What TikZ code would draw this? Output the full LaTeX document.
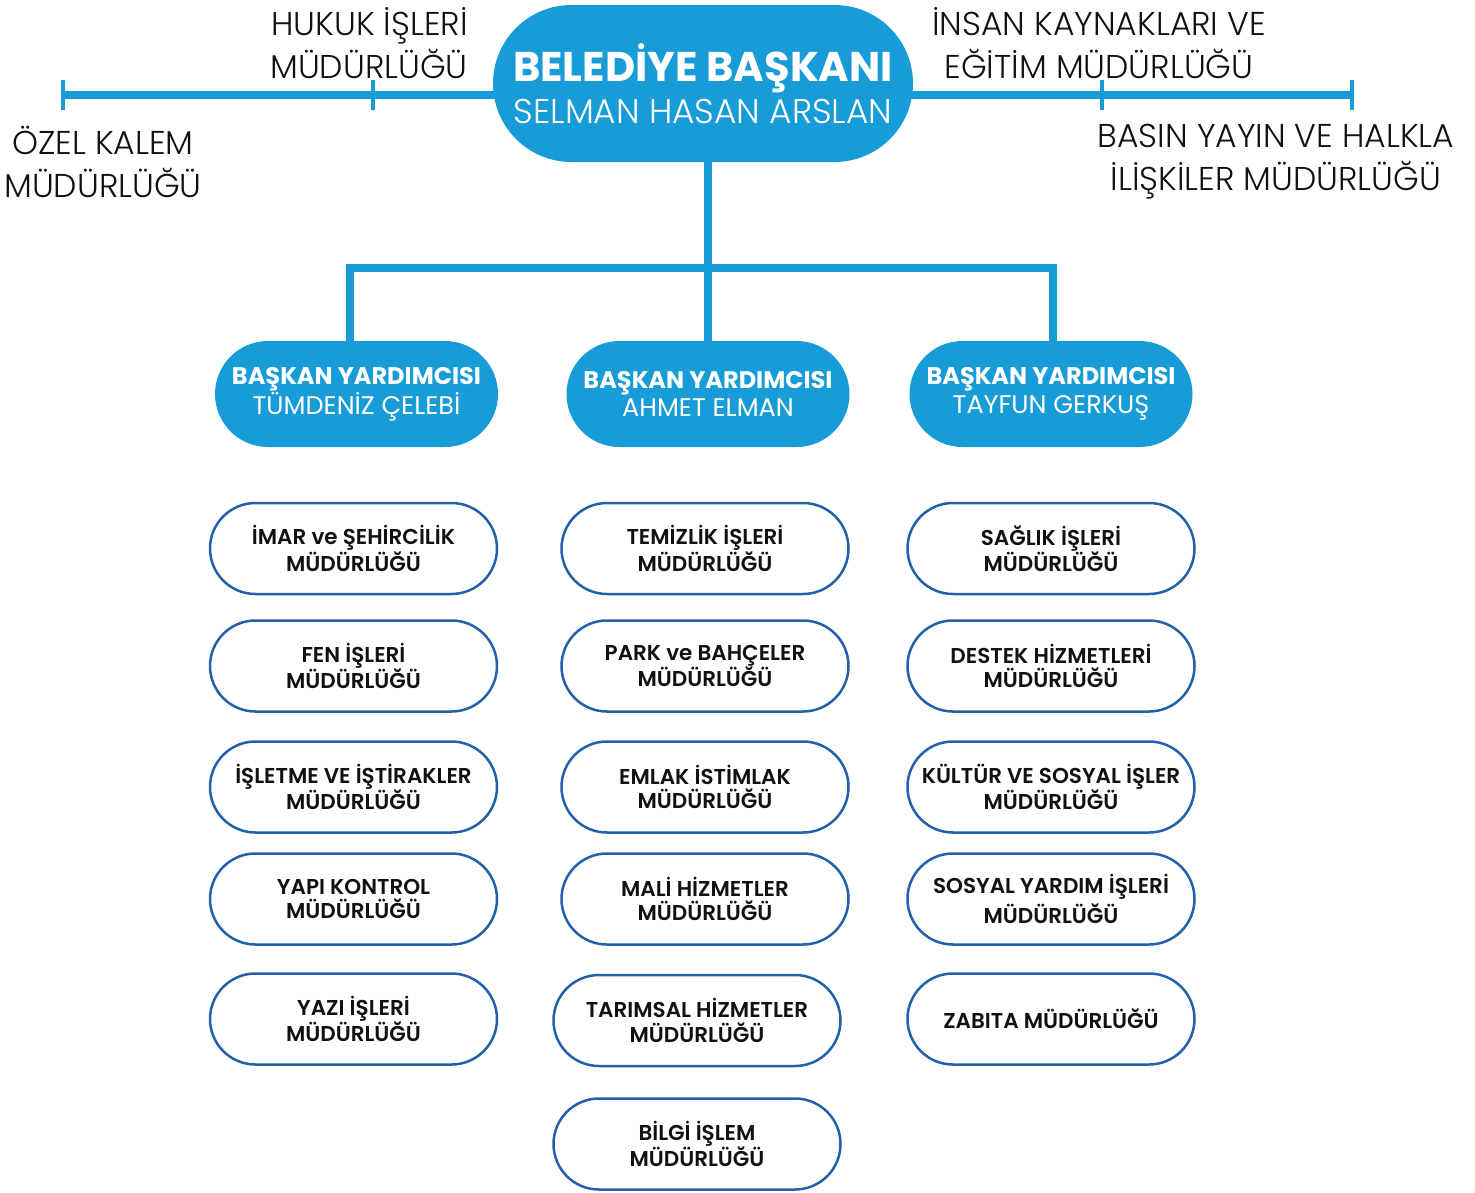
\documentclass[tikz,border=0pt]{standalone}
\usepackage{fontspec}
\setmainfont{Poppins}[BoldFont={Poppins SemiBold}]
\newfontfamily\heavyfont{Poppins}[UprightFont={* Bold}]
\newfontfamily\lightfont{Poppins}[UprightFont={* Light}]
\usetikzlibrary{shapes.misc}
\definecolor{mainblue}{HTML}{189CD8}
\definecolor{edgeblue}{HTML}{2161A9}
\definecolor{ink}{HTML}{111111}

\begin{document}
\begin{tikzpicture}[x=1pt,y=-1pt]
\tikzstyle{head}=[rounded rectangle,fill=mainblue,text=white,align=center,inner sep=0pt]
\tikzstyle{vice}=[head,minimum width=283pt,minimum height=106pt,font=\fontsize{25.5}{28.5}\selectfont]
\tikzstyle{dept}=[rounded rectangle,draw=edgeblue,line width=2.5pt,fill=white,minimum width=287pt,minimum height=91pt,inner sep=0pt,align=center,text=ink,font=\bfseries\fontsize{21.5}{24.5}\selectfont]
\tikzstyle{side}=[align=center,inner sep=0pt,text=ink,font=\lightfont\fontsize{33}{43}\selectfont]
\tikzstyle{bar}=[mainblue,line width=8pt]
\tikzstyle{tick}=[mainblue,line width=4pt]

\useasboundingbox (0,0) rectangle (1475,1192);

%staff line of the mayor.
\coordinate (ozel_tick) at (63,95);
\coordinate (hukuk_tick) at (373,95);
\coordinate (insan_tick) at (1102,95);
\coordinate (basin_tick) at (1352,95);
\draw[bar] (ozel_tick) -- (basin_tick);
\foreach \t in {ozel_tick,hukuk_tick,insan_tick,basin_tick}
  \draw[tick] ([yshift=-15pt]\t) -- ([yshift=15pt]\t);

\node[head,minimum width=420pt,minimum height=157pt,font=\lightfont\fontsize{34.3}{42}\selectfont] (mayor) at (703,83.5)
  {{\heavyfont\fontsize{41.5}{42}\selectfont BELEDİYE BAŞKANI}\\SELMAN HASAN ARSLAN};

\node[side,anchor=east,align=right] (hukuk_label) at (468,43.5) {HUKUK İŞLERİ\\MÜDÜRLÜĞÜ};
\node[side] (ozel_label) at (103,161.5) {ÖZEL KALEM\\MÜDÜRLÜĞÜ};
\node[side] (insan_label) at (1099,43.5) {İNSAN KAYNAKLARI VE\\EĞİTİM MÜDÜRLÜĞÜ};
\node[side] (basin_label) at (1276,161.5) {BASIN YAYIN VE HALKLA\\İLİŞKİLER MÜDÜRLÜĞÜ};

%deputy mayors.
\node[vice] (vp_left) at (356.5,394) {{\heavyfont\fontsize{24}{28.5}\selectfont BAŞKAN YARDIMCISI}\\TÜMDENİZ ÇELEBİ};
\node[vice] (vp_mid) at (708,394) {{\heavyfont\fontsize{24}{28.5}\selectfont BAŞKAN YARDIMCISI}\\AHMET ELMAN};
\node[vice] (vp_right) at (1051,394) {{\heavyfont\fontsize{24}{28.5}\selectfont BAŞKAN YARDIMCISI}\\TAYFUN GERKUŞ};

\coordinate (bus_left) at (350,268);
\coordinate (bus_right) at (1053,268);
\draw[bar] (vp_left.north -| bus_left) -- (bus_left) -- (bus_right) -- (bus_right |- vp_right.north);
\draw[bar] (mayor.south -| vp_mid.north) -- (vp_mid.north);

%left column.
\node[dept] (imar_dept) at (353.5,548.5) {İMAR ve ŞEHİRCİLİK\\MÜDÜRLÜĞÜ};
\node[dept] (fen_dept) at (353.5,666) {FEN İŞLERİ\\MÜDÜRLÜĞÜ};
\node[dept] (isletme_dept) at (353.5,787) {İŞLETME VE İŞTİRAKLER\\MÜDÜRLÜĞÜ};
\node[dept] (yapi_dept) at (353.5,899) {YAPI KONTROL\\MÜDÜRLÜĞÜ};
\node[dept] (yazi_dept) at (353.5,1019) {YAZI İŞLERİ\\MÜDÜRLÜĞÜ};

%middle column.
\node[dept] (temizlik_dept) at (705,548.5) {TEMİZLİK İŞLERİ\\MÜDÜRLÜĞÜ};
\node[dept] (park_dept) at (705,666) {PARK ve BAHÇELER\\MÜDÜRLÜĞÜ};
\node[dept] (emlak_dept) at (705,787) {EMLAK İSTİMLAK\\MÜDÜRLÜĞÜ};
\node[dept] (mali_dept) at (705,899) {MALİ HİZMETLER\\MÜDÜRLÜĞÜ};
\node[dept] (tarim_dept) at (697,1020.5) {TARIMSAL HİZMETLER\\MÜDÜRLÜĞÜ};
\node[dept] (bilgi_dept) at (697,1144) {BİLGİ İŞLEM\\MÜDÜRLÜĞÜ};

%right column.
\node[dept] (saglik_dept) at (1051,548.5) {SAĞLIK İŞLERİ\\MÜDÜRLÜĞÜ};
\node[dept] (destek_dept) at (1051,666) {DESTEK HİZMETLERİ\\MÜDÜRLÜĞÜ};
\node[dept] (kultur_dept) at (1051,787) {KÜLTÜR VE SOSYAL İŞLER\\MÜDÜRLÜĞÜ};
\node[dept] (sosyal_dept) at (1051,899) {SOSYAL YARDIM İŞLERİ\\[4pt]MÜDÜRLÜĞÜ};
\node[dept] (zabita_dept) at (1051,1019) {ZABITA MÜDÜRLÜĞÜ};

\end{tikzpicture}
\end{document}
